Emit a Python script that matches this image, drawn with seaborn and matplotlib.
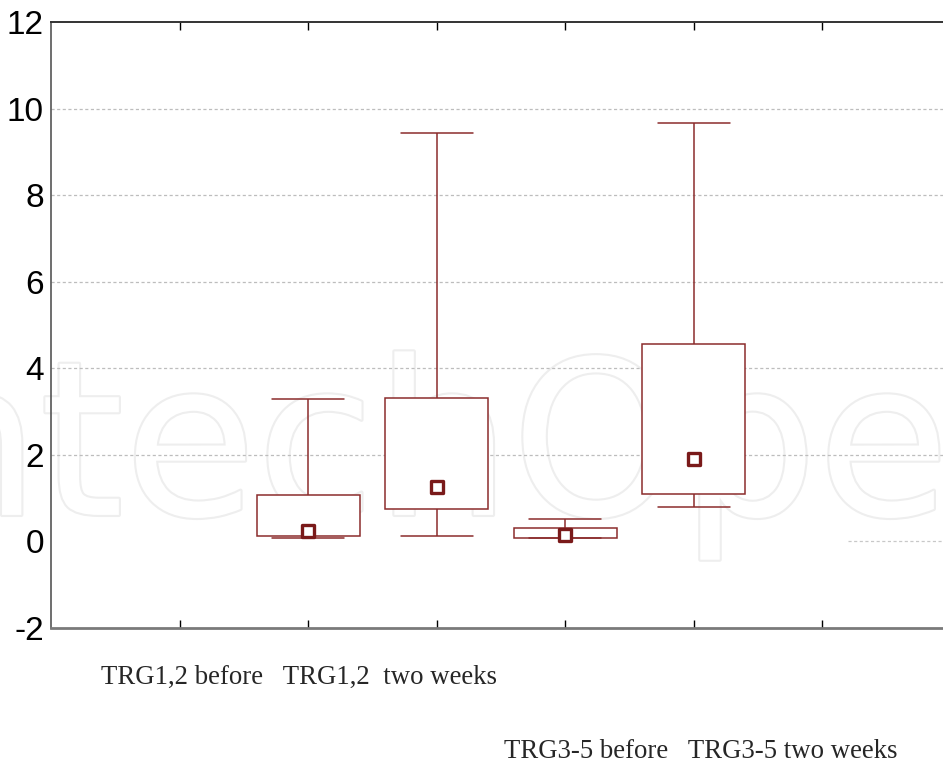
import pandas as pd
import numpy as np
import matplotlib
matplotlib.use("Agg")
import matplotlib.pyplot as plt
import matplotlib.patheffects as pe
import seaborn as sns

# values (min, q1, median, q3, max)
groups = ["TRG1,2 before", "TRG1,2  two weeks", "TRG3-5 before", "TRG3-5 two weeks"]
positions = [2, 3, 4, 5]
mins = [0.08, 0.12, 0.08, 0.80]
q1s = [0.12, 0.74, 0.08, 1.10]
medians = [0.24, 1.26, 0.15, 1.90]
q3s = [1.07, 3.31, 0.32, 4.57]
maxs = [3.29, 9.43, 0.52, 9.67]

y_ticks = [-2, 0, 2, 4, 6, 8, 10, 12]
x_ticks = [1, 2, 3, 4, 5, 6]

# five points per group -> quartiles land exactly on q1/q3, whiskers on min/max
rows = []
for g, p, a, b, c, d, e in zip(groups, positions, mins, q1s, medians, q3s, maxs):
    for v in (a, b, c, d, e):
        rows.append({"group": g, "pos": p, "value": v})
df = pd.DataFrame(rows)
med_df = pd.DataFrame({"pos": positions, "median": medians})

sns.set_style("white")
plt.rcParams["font.family"] = ["Liberation Sans", "DejaVu Sans"]
plt.rcParams["axes.unicode_minus"] = False

fig = plt.figure(figsize=(9.43, 7.64), dpi=100)
ax = fig.add_axes([0.054, 0.178, 0.9545, 0.793])
ax.patch.set_alpha(0)

red = "#8b2c2c"
sns.boxplot(data=df, x="pos", y="value", native_scale=True, whis=(0, 100),
            width=0.8, color="white", linecolor=red, linewidth=1.1,
            showfliers=False, capwidths=0.56,
            medianprops={"visible": False}, ax=ax, zorder=3)

sns.scatterplot(data=med_df, x="pos", y="median", marker="s", s=72,
                facecolor="white", edgecolor="#7a1a1a", linewidth=2.4,
                ax=ax, zorder=5)

ax.set_xlim(0, 7)
ax.set_ylim(-2, 12)
ax.set_xticks(x_ticks)
ax.set_xticklabels([])
ax.set_yticks(y_ticks)
ax.set_yticklabels([str(t) for t in y_ticks], fontsize=24)
ax.set_xlabel("")
ax.set_ylabel("")

ax.tick_params(axis="x", which="both", direction="in", length=6, width=1,
               color="black", top=True, bottom=True)
ax.tick_params(axis="y", direction="in", length=4, width=1, color="#444444",
               pad=5, labelcolor="black")

ax.grid(True, axis="y", linestyle=(0, (2.5, 2)), color="#bdbdbd", linewidth=0.9)
ax.set_axisbelow(True)
# gridline at 0 is only visible at the right end in the original
for tick_val, gl in zip(y_ticks, ax.get_ygridlines()):
    if tick_val in (-2, 0, 12):
        gl.set_visible(False)
ax.axhline(0, xmin=0.885, xmax=1, linestyle=(0, (2.5, 2)), color="#c8c8c8",
           linewidth=0.9, zorder=0.5)

ax.spines["right"].set_visible(False)
ax.spines["left"].set_color("#555555")
ax.spines["left"].set_linewidth(1.2)
ax.spines["top"].set_color("#333333")
ax.spines["top"].set_linewidth(1.4)
ax.spines["bottom"].set_color("#7a7a7a")
ax.spines["bottom"].set_linewidth(2)

# category labels sit below the axis in two staggered lines
serif = ["Liberation Serif", "DejaVu Serif"]
fig.text(0.107, 0.113, groups[0] + "   " + groups[1], fontsize=19.3,
         family=serif, va="center", ha="left")
fig.text(0.534, 0.016, groups[2] + "   " + groups[3], fontsize=19.3,
         family=serif, va="center", ha="left")

# faint watermark behind the plot
wm = fig.text(-0.17, 0.326, "IntechOpen", fontsize=155, color="white",
              family="DejaVu Sans", va="baseline", ha="left", zorder=-1)
wm.set_path_effects([pe.Stroke(linewidth=3, foreground="#eeeeee"), pe.Normal()])

fig.savefig("out.png", dpi=100)
